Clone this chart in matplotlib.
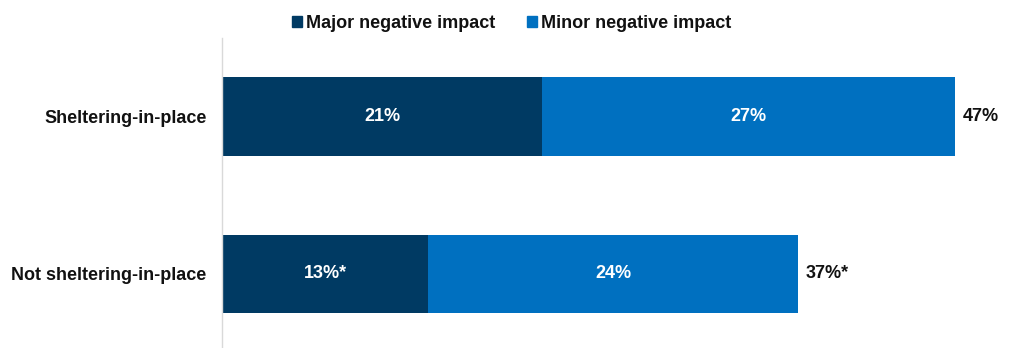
import matplotlib
matplotlib.use("Agg")
import matplotlib.pyplot as plt
from matplotlib.patches import Patch

categories = ["Sheltering-in-place", "Not sheltering-in-place"]
major = [20.8, 13.4]
minor = [26.8, 24.0]
major_labels = ["21%", "13%*"]
minor_labels = ["27%", "24%"]
total_labels = ["47%", "37%*"]
series_names = ["Major negative impact", "Minor negative impact"]

c_major = "#003A63"
c_minor = "#0070C0"
txt = "#111111"
fs = 13

plt.rcParams["font.family"] = ["Liberation Sans", "DejaVu Sans"]
plt.rcParams["font.weight"] = "bold"

W, H = 1013, 348
fig = plt.figure(figsize=(W / 100, H / 100), dpi=100)
left = 222 / W
ax = fig.add_axes([left, (H - 352.75) / H, 1 - left, (352.75 - 37.75) / H])

y = list(range(len(categories)))
ax.barh(y, major, height=0.5, color=c_major)
ax.barh(y, minor, left=major, height=0.5, color=c_minor)

for i in y:
    ax.text(major[i] / 2, i, major_labels[i], ha="center", va="center",
            color="white", fontsize=fs, fontweight="bold")
    ax.text(major[i] + minor[i] / 2, i, minor_labels[i], ha="center", va="center",
            color="white", fontsize=fs, fontweight="bold")
    ax.text(major[i] + minor[i] + 0.5, i, total_labels[i], ha="left", va="center",
            color=txt, fontsize=fs, fontweight="bold")

ax.set_xlim(0, (W - 222) / 15.4)
ax.set_ylim(1.5, -0.5)
ax.set_yticks(y)
ax.set_yticklabels(categories, fontsize=fs, fontweight="bold", color=txt)
ax.tick_params(axis="y", length=0, pad=11)
ax.set_xticks([])
for s in ["top", "right", "bottom"]:
    ax.spines[s].set_visible(False)
ax.spines["left"].set_color("#D9D9D9")
ax.spines["left"].set_linewidth(1)

handles = [Patch(color=c_major), Patch(color=c_minor)]
fig.legend(handles, series_names, loc="center", bbox_to_anchor=(0.505, 1 - 23 / H),
           ncol=2, frameon=False, handlelength=0.55, handleheight=0.55,
           handletextpad=0.2, columnspacing=1.8, borderpad=0,
           prop={"size": fs, "weight": "bold"}, labelcolor=txt)

fig.savefig("out.png", dpi=100)
